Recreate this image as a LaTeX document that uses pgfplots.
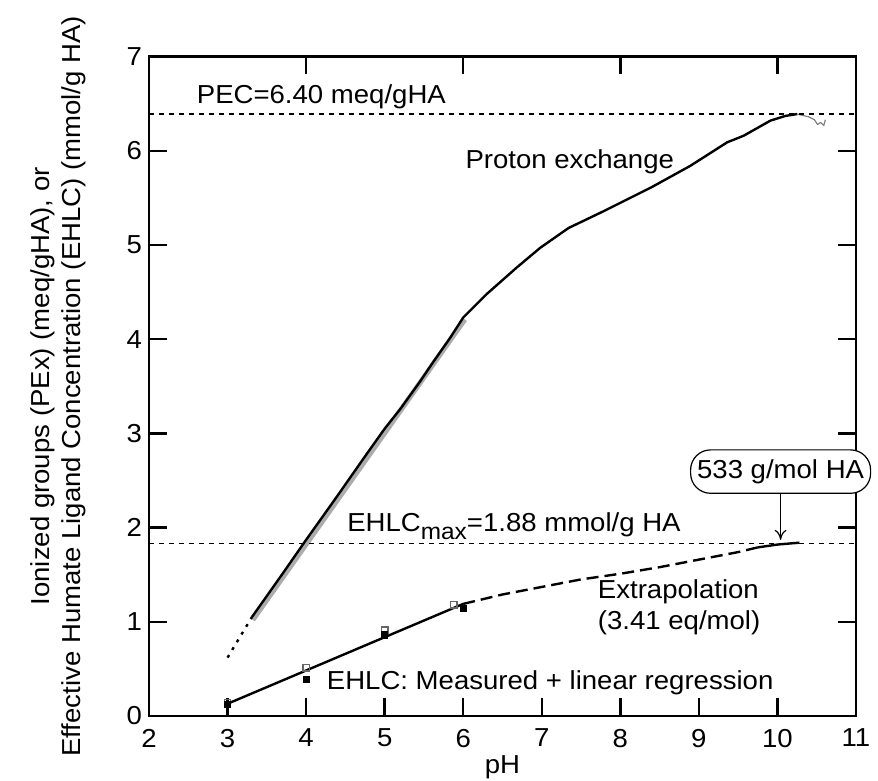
\documentclass[border=0pt]{standalone}
\usepackage{fontspec}
\setmainfont{Liberation Sans}[FakeStretch=1.06]
\usepackage{pgfplots}
\pgfplotsset{compat=1.18}
\usetikzlibrary{arrows.meta}
\begin{document}
\begin{tikzpicture}[font=\fontsize{13}{15.6}\selectfont]
\useasboundingbox (-74.5pt,-32.5pt) rectangle (364.5pt,358pt);
\begin{axis}[at={(0,0)}, anchor=south west, scale only axis,
  width=353.5pt, height=329.7pt,
  xmin=2, xmax=11, ymin=0, ymax=7,
  xtick={2,...,11}, ytick={0,...,7},
  xtick pos=bottom, ytick pos=both,
  tick align=inside, major tick length=9pt,
  axis line style={line width=1.2pt},
  tick style={line width=1.2pt, black},
  /pgf/number format/assume math mode=true,
  xticklabel style={yshift=-3pt},
  xlabel={pH},
  xlabel style={yshift=3pt},
  ylabel={Ionized groups (PEx) (meq/gHA), or\\Effective Humate Ligand Concentration (EHLC) (mmol/g HA)},
  ylabel style={align=center, at={(axis description cs:-0.128,0.5)}, anchor=center},
  clip=false,
]
% gray regression under proton exchange
\addplot[gray!65, line width=2.6pt] coordinates {(3.32,1.02) (6.02,4.21)};
% proton exchange
\addplot[black, line width=1.2pt] coordinates {(3.31,1.05) (3.7,1.51) (4.0,1.87) (4.35,2.28) (4.77,2.78) (5.0,3.05) (5.2,3.26) (5.45,3.55) (5.62,3.76) (5.83,4.01) (6.0,4.23) (6.3,4.48) (6.68,4.76) (6.98,4.97) (7.34,5.18) (7.79,5.36) (8.39,5.61) (8.89,5.84) (9.36,6.09) (9.57,6.16) (9.91,6.32) (10.1,6.37) (10.25,6.39)};
\addplot[gray, line width=0.6pt] coordinates {(10.25,6.39) (10.4,6.36) (10.47,6.33) (10.51,6.28) (10.55,6.30) (10.59,6.27) (10.61,6.33)};
\addplot[black, line width=1.2pt, dash pattern=on 1.5pt off 3pt] coordinates {(3.0,0.62) (3.31,1.05)};
% reference lines
\addplot[black, line width=0.6pt, dash pattern=on 2.5pt off 2.5pt] coordinates {(2,6.39) (11,6.39)};
\addplot[black, line width=0.6pt, dash pattern=on 2.5pt off 2.5pt] coordinates {(2,1.83) (11,1.83)};
% EHLC regression and extrapolation
\addplot[black, line width=1.2pt] coordinates {(3,0.13) (6,1.19)};
\addplot[black, line width=1.2pt, dash pattern=on 6pt off 3pt] coordinates {(6.0,1.19) (6.5,1.29) (7.0,1.37) (7.5,1.45) (8.0,1.51) (8.5,1.58) (9.0,1.66) (9.5,1.74) (9.75,1.79)};
\addplot[black, line width=1.2pt] coordinates {(9.75,1.79) (10.0,1.82) (10.28,1.84)};
% measured points
\addplot[only marks, mark=square, mark size=1.6pt, gray!80!black, mark options={line width=0.7pt}] coordinates {(3,0.14) (4,0.51) (5,0.91) (5.88,1.18)};
\addplot[only marks, mark=square*, mark size=1.6pt, black] coordinates {(3,0.12) (4,0.39) (5,0.86) (6,1.14)};
% top ticks every 2 units
\draw[line width=1.2pt] (axis cs:4,7) -- (axis cs:4,6.81);
\draw[line width=1.2pt] (axis cs:6,7) -- (axis cs:6,6.81);
\draw[line width=1.2pt] (axis cs:8,7) -- (axis cs:8,6.81);
\draw[line width=1.2pt] (axis cs:10,7) -- (axis cs:10,6.81);
% annotations
\node[anchor=west] at (axis cs:2.52,6.57) {PEC=6.40 meq/gHA};
\node[anchor=west] at (axis cs:5.94,5.88) {Proton exchange};
\node[anchor=base west, inner sep=0pt] at (axis cs:4.52,1.96) {EHLC\raisebox{-4pt}{\fontsize{11.5}{12}\selectfont max}=1.88 mmol/g HA};
\node[anchor=base west, inner sep=0pt] at (axis cs:7.71,1.25) {Extrapolation};
\node[anchor=base west, inner sep=0pt] at (axis cs:7.71,0.92) {(3.41 eq/mol)};
\node[anchor=base west, inner sep=0pt] at (axis cs:4.26,0.276) {EHLC: Measured + linear regression};
\draw[-{To[length=5pt,width=6pt]}, line width=0.6pt] (axis cs:10.04,2.36) -- (axis cs:10.04,1.87);
\end{axis}
\node[draw, line width=0.6pt, fill=white, rounded corners=10pt, minimum width=90pt, minimum height=21.7pt, inner sep=0pt] at (315.8pt,122.2pt) {533 g/mol HA};
\end{tikzpicture}
\end{document}
